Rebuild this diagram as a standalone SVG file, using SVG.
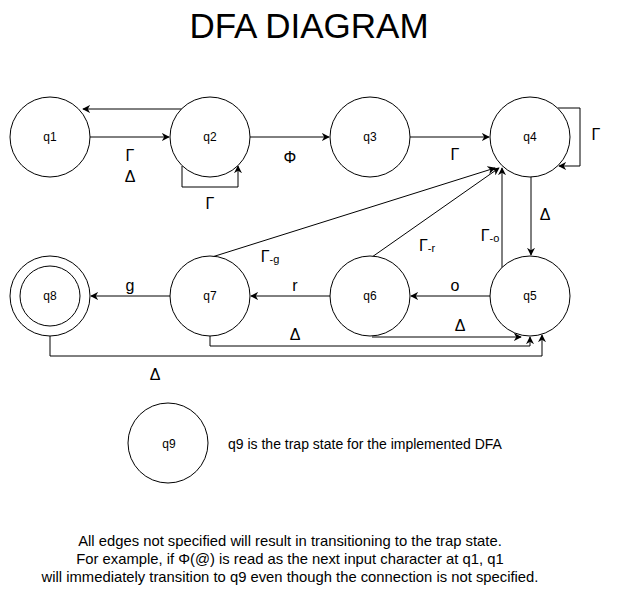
<svg xmlns="http://www.w3.org/2000/svg" width="621" height="601" viewBox="0 0 621 601">
<style>
  .node { fill: #ffffff; stroke: #000000; stroke-width: 1; }
  .ntext { font-family: "Liberation Sans", Arial, sans-serif; font-size: 12px; fill: #000; text-anchor: middle; dominant-baseline: central; }
  .edge { fill: none; stroke: #000000; stroke-width: 1; }
  .lbl { font-family: "Liberation Sans", Arial, sans-serif; font-size: 16px; fill: #000; text-anchor: middle; dominant-baseline: central; }
  .sub { font-size: 11px; }
  .title { font-family: "Liberation Sans", Arial, sans-serif; font-size: 35px; fill: #000; text-anchor: middle; }
  .note { font-family: "Liberation Sans", Arial, sans-serif; font-size: 14px; fill: #000; }
  .foot { font-family: "Liberation Sans", Arial, sans-serif; font-size: 14.8px; fill: #000; text-anchor: middle; }
</style>
<defs>
  <marker id="arr" viewBox="0 0 10 10" refX="9" refY="5" markerWidth="8" markerHeight="8" markerUnits="userSpaceOnUse" orient="auto">
    <path d="M0,0 L10,5 L0,10 L3,5 Z" fill="#000"/>
  </marker>
</defs>
<rect x="0" y="0" width="621" height="601" fill="#ffffff"/>

<text class="title" x="309" y="38">DFA DIAGRAM</text>

<g id="connectors">
  <path class="edge" marker-end="url(#arr)" d="M90,137 L169,137"/>
  <path class="edge" marker-end="url(#arr)" d="M182,109 L83,109"/>
  <path class="edge" marker-end="url(#arr)" d="M182,166 L182,187 L238,187 L238,166"/>
  <path class="edge" marker-end="url(#arr)" d="M250,137 L329,137"/>
  <path class="edge" marker-end="url(#arr)" d="M410,137 L489,137"/>
  <path class="edge" marker-end="url(#arr)" d="M558,108 L580,108 L580,166 L559,166"/>
  <path class="edge" marker-end="url(#arr)" d="M531,176 L531,255"/>
  <path class="edge" marker-end="url(#arr)" d="M502,268 L502,168"/>
  <path class="edge" marker-end="url(#arr)" d="M372,257 L499,168"/>
  <path class="edge" marker-end="url(#arr)" d="M212,257 L495,168"/>
  <path class="edge" marker-end="url(#arr)" d="M490,296 L411,296"/>
  <path class="edge" marker-end="url(#arr)" d="M330,296 L251,296"/>
  <path class="edge" marker-end="url(#arr)" d="M170,296 L91,296"/>
  <path class="edge" marker-end="url(#arr)" d="M372,337 L521,337"/>
  <path class="edge" marker-end="url(#arr)" d="M210,336 L210,346 L530,346 L530,337"/>
  <path class="edge" marker-end="url(#arr)" d="M50,336 L50,356 L542,356 L542,335"/>

  <text class="lbl" x="130" y="155">Γ</text>
  <text class="lbl" x="130" y="176">Δ</text>
  <text class="lbl" x="210" y="203">Γ</text>
  <text class="lbl" x="290" y="157">Φ</text>
  <text class="lbl" x="455" y="154">Γ</text>
  <text class="lbl" x="596" y="134">Γ</text>
  <text class="lbl" x="545" y="214">Δ</text>
  <text class="lbl" x="490" y="235">Γ<tspan class="sub" dy="3">-o</tspan></text>
  <text class="lbl" x="427" y="245">Γ<tspan class="sub" dy="3">-r</tspan></text>
  <text class="lbl" x="270" y="256">Γ<tspan class="sub" dy="3">-g</tspan></text>
  <text class="lbl" x="455" y="285">o</text>
  <text class="lbl" x="295" y="285">r</text>
  <text class="lbl" x="130" y="285">g</text>
  <text class="lbl" x="460" y="325">Δ</text>
  <text class="lbl" x="295" y="334">Δ</text>
  <text class="lbl" x="155" y="374">Δ</text>
</g>

<g id="q1"><circle class="node" cx="50" cy="137" r="40"/><text class="ntext" x="50" y="137">q1</text></g>
<g id="q2"><circle class="node" cx="210" cy="137" r="40"/><text class="ntext" x="210" y="137">q2</text></g>
<g id="q3"><circle class="node" cx="370" cy="137" r="40"/><text class="ntext" x="370" y="137">q3</text></g>
<g id="q4"><circle class="node" cx="530" cy="137" r="40"/><text class="ntext" x="530" y="137">q4</text></g>
<g id="q5"><circle class="node" cx="530" cy="296" r="40"/><text class="ntext" x="530" y="296">q5</text></g>
<g id="q6"><circle class="node" cx="370" cy="296" r="40"/><text class="ntext" x="370" y="296">q6</text></g>
<g id="q7"><circle class="node" cx="210" cy="296" r="40"/><text class="ntext" x="210" y="296">q7</text></g>
<g id="q8"><circle class="node" cx="50" cy="296" r="40"/><circle class="node" cx="50" cy="296" r="30"/><text class="ntext" x="50" y="296">q8</text></g>
<g id="q9"><circle class="node" cx="168" cy="443" r="40"/><text class="ntext" x="169" y="444">q9</text></g>

<text class="note" x="228" y="449">q9 is the trap state for the implemented DFA</text>

<text class="foot" x="290" y="546">All edges not specified will result in transitioning to the trap state.</text>
<text class="foot" x="290" y="564">For example, if Φ(@) is read as the next input character at q1, q1</text>
<text class="foot" x="290" y="582">will immediately transition to q9 even though the connection is not specified.</text>
</svg>
